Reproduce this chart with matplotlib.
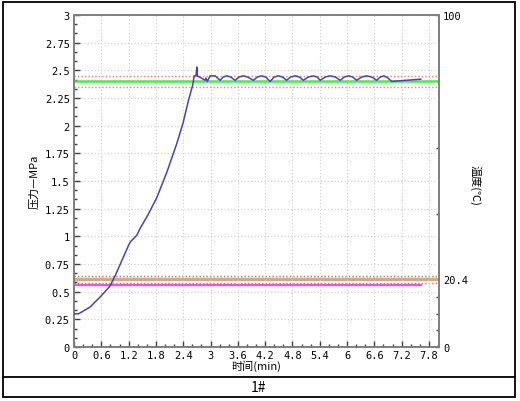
import matplotlib
matplotlib.use("Agg")
import matplotlib.pyplot as plt
from matplotlib.ticker import AutoMinorLocator, FixedLocator
from matplotlib.patches import Rectangle
from matplotlib.lines import Line2D

plt.rcParams['font.family'] = ['Noto Sans CJK SC', 'DejaVu Sans']

# pressure curve (MPa)
time_p = [0, 0.10, 0.35, 0.57, 0.79, 0.90, 1.05, 1.20, 1.24, 1.38, 1.45, 1.62, 1.82, 2.04,
          2.26, 2.40, 2.51, 2.61, 2.64, 2.68, 2.70, 2.71, 2.80, 2.88, 2.90, 2.93, 2.99,
          3.10, 3.21, 3.28, 3.36, 3.44, 3.54, 3.63, 3.72, 3.81, 3.94, 4.03, 4.12, 4.21,
          4.31, 4.40, 4.49, 4.58, 4.67, 4.76, 4.86, 4.95, 5.04, 5.15, 5.26, 5.34, 5.41,
          5.52, 5.63, 5.74, 5.85, 5.94, 6.03, 6.12, 6.21, 6.32, 6.43, 6.54, 6.65, 6.73,
          6.81, 6.90, 6.98, 7.30, 7.62]
pressure = [0.30, 0.30, 0.36, 0.45, 0.55, 0.64, 0.78, 0.92, 0.95, 1.01, 1.07, 1.19, 1.35, 1.58,
            1.84, 2.03, 2.22, 2.37, 2.45, 2.45, 2.53, 2.45, 2.43, 2.41, 2.43, 2.40, 2.45,
            2.45, 2.41, 2.44, 2.45, 2.44, 2.41, 2.44, 2.45, 2.44, 2.41, 2.44, 2.45, 2.44,
            2.40, 2.44, 2.45, 2.44, 2.41, 2.44, 2.45, 2.44, 2.41, 2.44, 2.45, 2.44, 2.41,
            2.44, 2.45, 2.44, 2.41, 2.44, 2.45, 2.44, 2.41, 2.44, 2.45, 2.44, 2.41, 2.44,
            2.45, 2.43, 2.40, 2.41, 2.42]

# temperature (right axis)
time_t = [0, 7.62]
temperature = [18.6, 18.6]

p_set = 2.4
p_tol = 0.05
t_set = 20.4
t_tol = 1.0

x_ticks = [0, 0.6, 1.2, 1.8, 2.4, 3, 3.6, 4.2, 4.8, 5.4, 6, 6.6, 7.2, 7.8]
x_labels = ['0', '0.6', '1.2', '1.8', '2.4', '3', '3.6', '4.2', '4.8', '5.4', '6', '6.6', '7.2', '7.8']
y_ticks = [0, 0.25, 0.5, 0.75, 1, 1.25, 1.5, 1.75, 2, 2.25, 2.5, 2.75, 3]
y_labels = ['0', '0.25', '0.5', '0.75', '1', '1.25', '1.5', '1.75', '2', '2.25', '2.5', '2.75', '3']
r_ticks = [0, 20.4, 100]
r_labels = ['0', '20.4', '100']
r_minor = [5, 10, 15, 40, 60, 80]

fig = plt.figure(figsize=(5.2, 4.02), dpi=100)
ax = fig.add_axes([74/520, 1-348/402, 365/520, 332/402])
ax2 = ax.twinx()

mono = ['DejaVu Sans Mono']
spine_c = '#808080'

ax.set_xlim(0, 8.02)
ax.set_ylim(0, 3)
ax2.set_ylim(0, 100)

# setpoint and tolerance lines
ax.axhline(p_set, color='#44ee44', lw=1.8, zorder=2)
ax.axhline(p_set + p_tol, color='#ff7777', lw=1.0, ls=(0, (1, 1.5)), zorder=2)
ax.axhline(p_set - p_tol, color='#ff7777', lw=1.0, ls=(0, (1, 1.5)), zorder=2)
ax2.axhline(t_set, color='#c9ab90', lw=2.5, zorder=2)
ax2.axhline(t_set + t_tol, color='#c07838', lw=1.0, ls=(0, (1, 1.5)), zorder=2)
ax2.axhline(t_set - t_tol, color='#c07838', lw=1.0, ls=(0, (1, 1.5)), zorder=2)

ax2.plot(time_t, temperature, color='#ff44ff', lw=1.6, zorder=3)
ax.plot(time_p, pressure, color='#4545b0', lw=1.1, zorder=4)
ax.set_zorder(ax2.get_zorder() + 1)
ax.patch.set_visible(False)

# grid
ax.grid(True, color='#cccccc', ls=(0, (1, 2)), lw=0.8)
ax.set_axisbelow(True)

ax.set_xticks(x_ticks)
ax.set_xticklabels(x_labels, family=mono, fontsize=7.5)
ax.set_yticks(y_ticks)
ax.set_yticklabels(y_labels, family=mono, fontsize=7.5)
ax.xaxis.set_minor_locator(AutoMinorLocator(3))
ax.yaxis.set_minor_locator(AutoMinorLocator(3))
ax.tick_params(which='both', direction='in', color='#404040')
ax.tick_params(which='major', length=4, width=1, pad=3)
ax.tick_params(which='minor', length=2.5, width=1)
ax.tick_params(axis='x', pad=2)

ax2.yaxis.set_major_locator(FixedLocator(r_ticks))
ax2.set_yticklabels(r_labels, family=mono, fontsize=7.5)
ax2.yaxis.set_minor_locator(FixedLocator(r_minor))
ax2.tick_params(which='both', direction='in', color='#404040', width=1)
ax2.tick_params(which='major', length=3, pad=3)
ax2.tick_params(which='minor', length=2.5)

for a in (ax, ax2):
    for s in a.spines.values():
        s.set_color(spine_c)
        s.set_linewidth(1.3)

ax.set_xlabel('时间(min)', fontsize=8, labelpad=0)
ax.set_ylabel('压力—MPa', fontsize=8)
ax.yaxis.set_label_coords(-0.095, 0.5)
ax2.set_ylabel('温度(℃)', fontsize=8, rotation=270, va='center')
ax2.yaxis.set_label_coords(1.10, 0.49)

# outer frame and title box
fig.patches.append(Rectangle((3/520, 1-398/402), 512/520, 395/402, transform=fig.transFigure,
                             fill=False, ec='black', lw=1.3))
fig.lines.append(Line2D([3/520, 515/520], [1-378/402, 1-378/402], transform=fig.transFigure,
                        color='black', lw=1.3))
fig.text(258/520, 1-388/402, '1#', ha='center', va='center', fontsize=10)

fig.savefig('out.png', dpi=100)
